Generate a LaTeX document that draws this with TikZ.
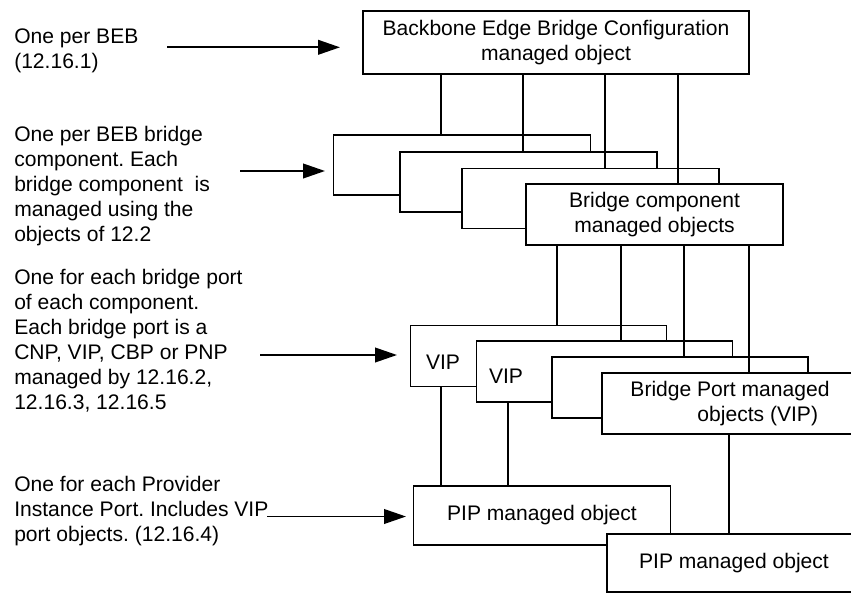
\documentclass[tikz,border=0pt]{standalone}
\usepackage{fontspec}
\setmainfont{Liberation Sans}
\usetikzlibrary{arrows.meta}
\begin{document}
\frenchspacing
\begin{tikzpicture}[x=0.75pt,y=-0.75pt,
  every node/.style={font=\fontsize{15.8pt}{18.75pt}\selectfont, inner sep=0pt},
  box/.style={draw, fill=white, line width=1.4pt, minimum width=192.75pt, minimum height=45pt, align=center},
  pbox/.style={box, minimum width=192pt, minimum height=45.75pt},
  note/.style={anchor=north west, align=left},
  link/.style={line width=1.4pt},
  arr/.style={line width=1.4pt, -{Triangle[length=16.5pt,width=11pt]}}
]
\useasboundingbox (0,0) rectangle (851,593);
\clip (0,0) rectangle (851,593);

% boxes
\node[box, minimum width=289.5pt, minimum height=47.25pt] (beb) at (556,42.5) {Backbone Edge Bridge Configuration\\managed object};
\node[box] (bc1) at (462,165) {};
\node[box] (bc2) at (528.5,182) {};
\node[box] (bc3) at (590.5,198.5) {};
\node[box, minimum height=45.75pt] (bc4) at (654.5,214.5) {Bridge component\\managed objects};
\node[pbox] (port1) at (538.5,356) {};
\node[pbox] (port2) at (604.5,371.5) {};
\node[pbox] (port3) at (680,387.5) {};
\node[pbox, align=left] (port4) at (730,403.5) {Bridge Port managed\\\hspace*{50.25pt}objects (VIP)};
\node (vip1) at (443,362) {VIP};
\node (vip2) at (506,376) {VIP};
\node[box, minimum height=44.25pt] (pip1) at (542,515.5) {PIP managed object};
\node[box, minimum width=190.5pt, minimum height=43.5pt] (pip2) at (734,563) {PIP managed object};

% vertical connectors
\coordinate (ca) at (441,0);
\coordinate (cb) at (523,0);
\coordinate (cc) at (605,0);
\coordinate (cd) at (678,0);
\draw[link] (beb.south -| ca) -- (bc1.north -| ca);
\draw[link] (beb.south -| cb) -- (bc2.north -| cb);
\draw[link] (beb.south -| cc) -- (bc3.north -| cc);
\draw[link] (beb.south -| cd) -- (bc4.north -| cd);

\coordinate (pa) at (557,0);
\coordinate (pb) at (621,0);
\coordinate (pc) at (684,0);
\coordinate (pd) at (749,0);
\draw[link] (bc4.south -| pa) -- (port1.north -| pa);
\draw[link] (bc4.south -| pb) -- (port2.north -| pb);
\draw[link] (bc4.south -| pc) -- (port3.north -| pc);
\draw[link] (bc4.south -| pd) -- (port4.north -| pd);

\coordinate (qa) at (441,0);
\coordinate (qb) at (508,0);
\coordinate (qc) at (729,0);
\draw[link] (port1.south -| qa) -- (pip1.north -| qa);
\draw[link] (port2.south -| qb) -- (pip1.north -| qb);
\draw[link] (port4.south -| qc) -- (pip2.north -| qc);

% notes
\node[note] (n1) at (14,28.8) {One per BEB\\(12.16.1)};
\node[note] (n2) at (14,125.8) {One per BEB bridge\\component. Each\\bridge component~ is\\managed using the\\objects of 12.2};
\node[note] (n3) at (14,268.5) {One for each bridge port\\of each component.\\Each bridge port is a\\CNP, VIP, CBP or PNP\\managed by 12.16.2,\\12.16.3, 12.16.5};
\node[note] (n4) at (14,476) {One for each Provider\\Instance Port. Includes VIP\\port objects. (12.16.4)};

% arrows
\coordinate (a1s) at (167,47.3);
\coordinate (a1e) at (340,47.3);
\coordinate (a2s) at (240,171);
\coordinate (a2e) at (325,171);
\coordinate (a3s) at (260,355);
\coordinate (a3e) at (397,355);
\coordinate (a4s) at (267,516.5);
\coordinate (a4e) at (406,516.5);
\draw[arr] (a1s) -- (a1e);
\draw[arr] (a2s) -- (a2e);
\draw[arr] (a3s) -- (a3e);
\draw[arr] (a4s) -- (a4e);
\end{tikzpicture}
\end{document}
